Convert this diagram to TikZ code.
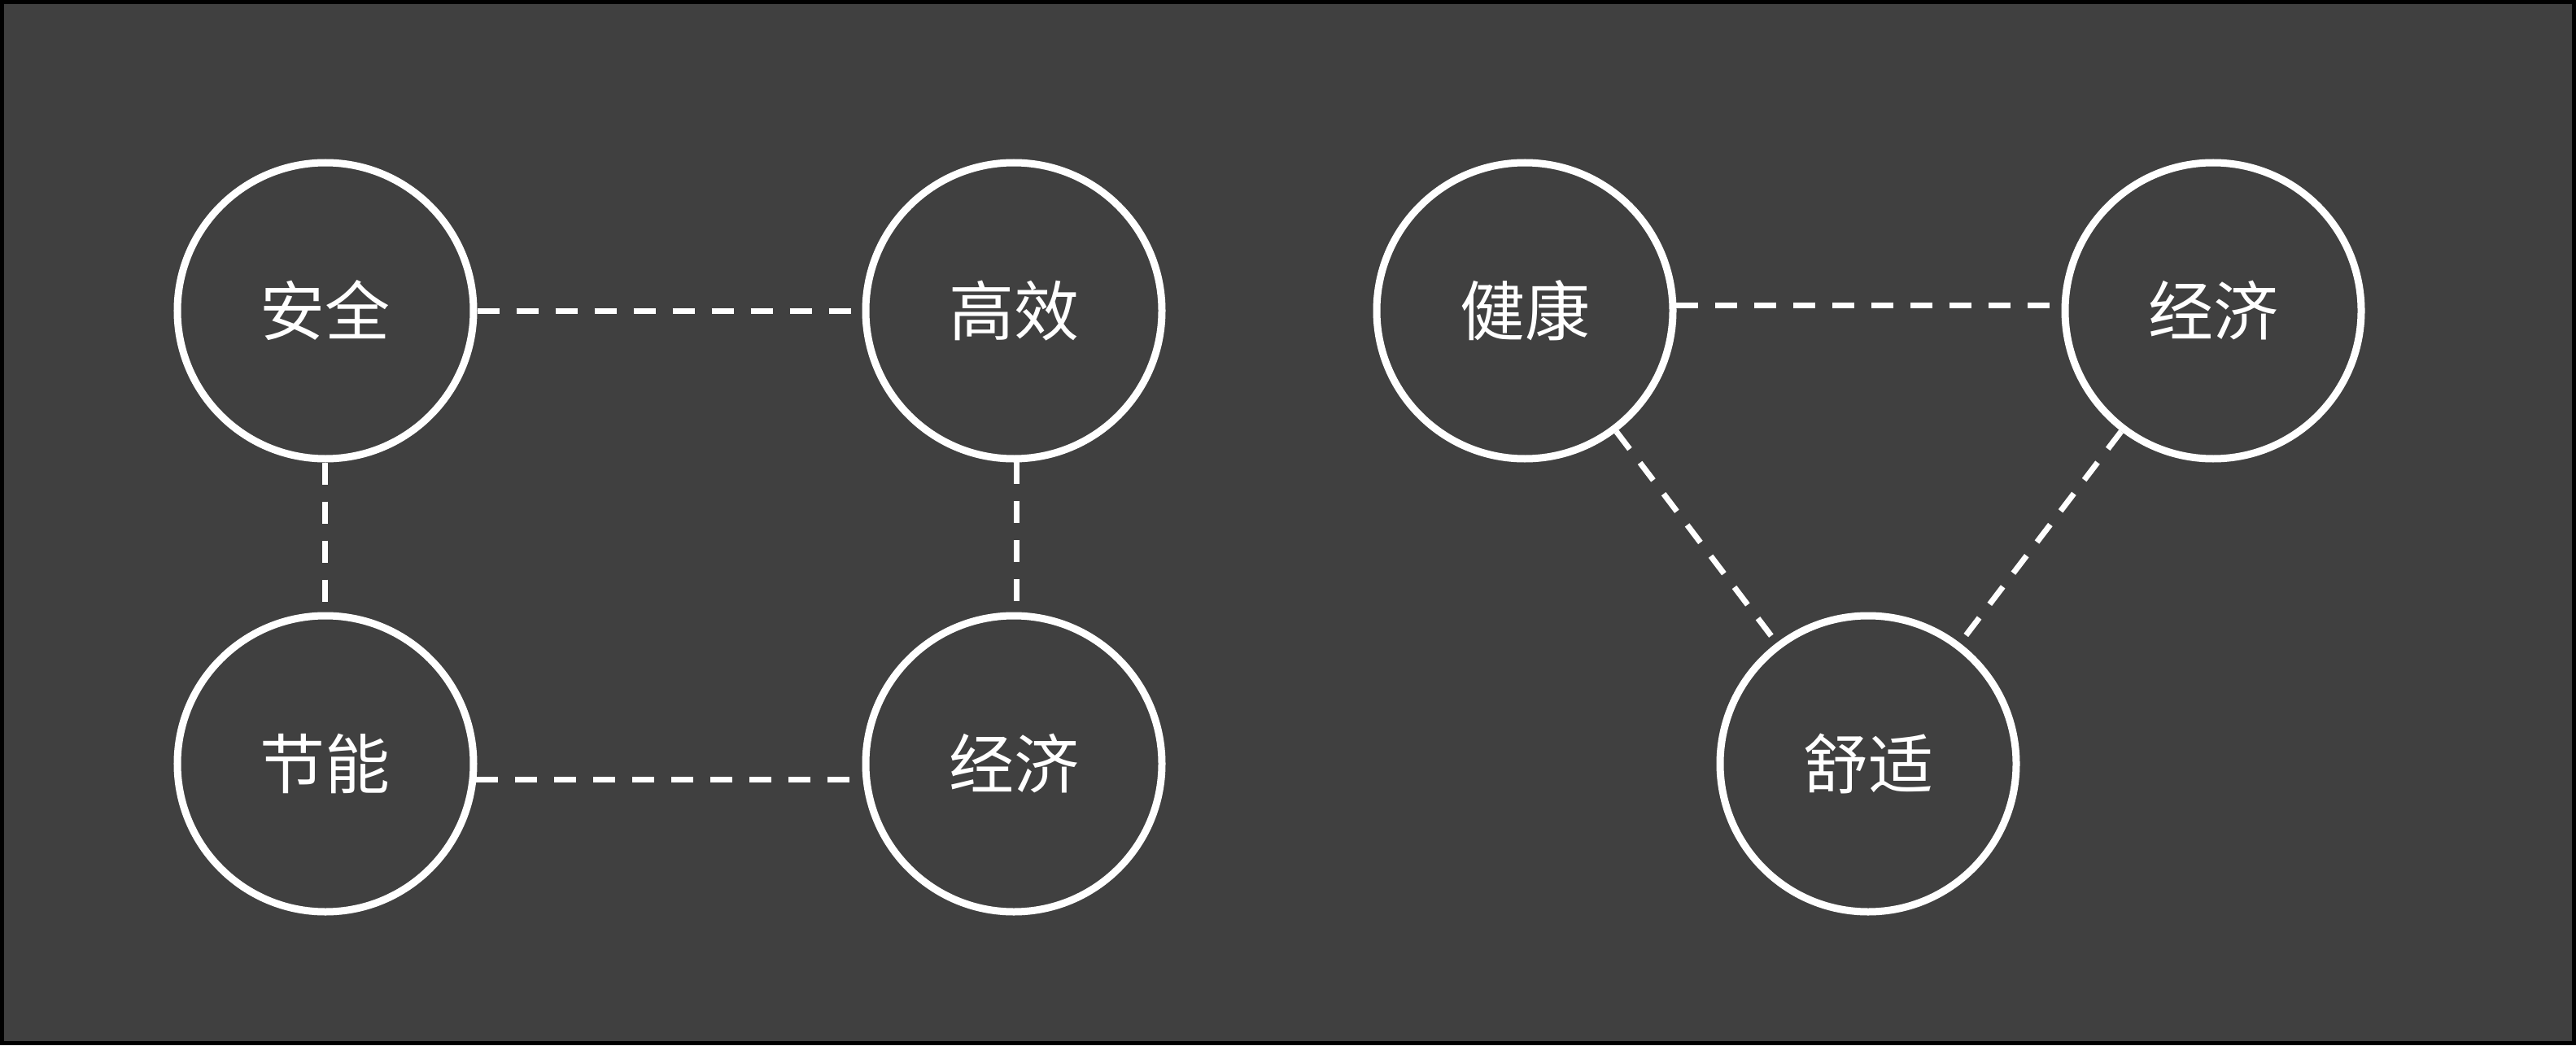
\documentclass[tikz,border=0pt]{standalone}
\usepackage{fontspec}
\newfontfamily\cjk{Noto Sans CJK SC}
\usepackage{tikz}
\usetikzlibrary{automata, positioning}
\definecolor{bgdark}{HTML}{404040}
\tikzset{
    every state/.style={ % weisse kreise
        draw=white,
        line width=2.25pt,
        fill=bgdark,
        text=white,
        minimum size=91pt,
        inner sep=0pt,
        font=\cjk\fontsize{20pt}{24pt}\selectfont
    },
    every edge/.style={ % gestrichelte verbindungen
        draw=white,
        line width=1.75pt,
        dash pattern=on 6.75pt off 5.25pt
    }
}
\begin{document}
\begin{tikzpicture}[node distance=211.5pt]
            % hintergrund
            \fill[black] (-100pt,95.5pt) rectangle (691.5pt,-225.75pt);
            \fill[bgdark] (-98.75pt,94.25pt) rectangle (690.25pt,-224.5pt);
            % linke gruppe
            \node[state]                                        (anquan)    {安全};
            \node[state, right of=anquan]                       (gaoxiao)   {高效};
            \node[state, below of=anquan, node distance=139.25pt] (jieneng) {节能};
            \node[state, below of=gaoxiao, node distance=139.25pt] (jingjiA) {经济};
            % rechte gruppe
            \node[state, right of=gaoxiao, node distance=157pt] (jiankang)  {健康};
            \node[state, right of=jiankang]                     (jingjiB)   {经济};
            \node[state, below of=jiankang, node distance=139.25pt,
                  xshift=105.5pt]                               (shushi)    {舒适};

            \draw
                    % linke gruppe
                    (anquan)        edge    (gaoxiao)
                    (anquan)        edge    (jieneng)
                    (gaoxiao.-89)   edge    (jingjiA.89)
                    (jieneng.-6)    edge    (jingjiA.186)
                    % rechte gruppe
                    (jiankang.2)    edge    (jingjiB.178)
                    (jiankang)      edge    (shushi)
                    (jingjiB)       edge    (shushi)
            ;
        \end{tikzpicture}
\end{document}
